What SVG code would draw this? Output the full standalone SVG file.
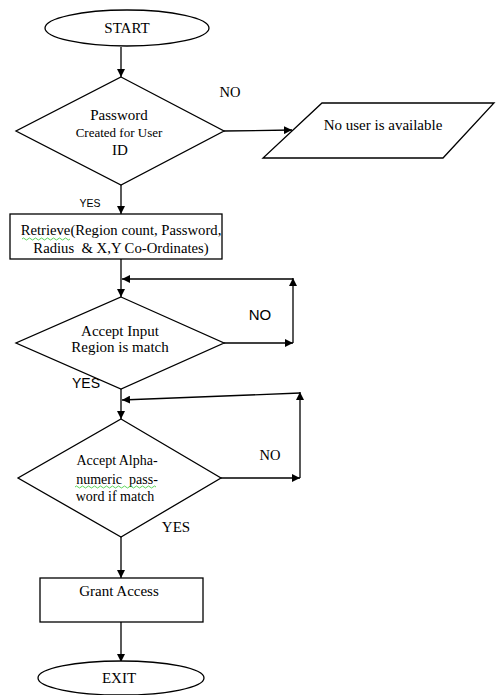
<svg xmlns="http://www.w3.org/2000/svg" width="496" height="695" viewBox="0 0 496 695">
<style>
.s{fill:#fff;stroke:#000;stroke-width:1.3}
.l{fill:none;stroke:#000;stroke-width:1.3}
.t{font-family:"Liberation Serif",serif;font-size:15px;fill:#000;text-anchor:middle}
.a{font-family:"Liberation Sans",sans-serif;font-size:14px;fill:#000;text-anchor:middle}
.w{fill:none;stroke:#3c3;stroke-width:0.8}
</style>
<defs>
<marker id="ah" viewBox="0 0 10 10" refX="10" refY="5" markerWidth="8" markerHeight="8" markerUnits="userSpaceOnUse" orient="auto">
<path d="M0,0L10,5L0,10z" fill="#000"/>
</marker>
</defs>
<rect width="496" height="695" fill="#fff"/>
<g id="connectors">
<line class="l" x1="121" y1="47" x2="121" y2="77" marker-end="url(#ah)"/>
<line class="l" x1="224" y1="131" x2="292" y2="130" marker-end="url(#ah)"/>
<line class="l" x1="121" y1="185" x2="121" y2="214" marker-end="url(#ah)"/>
<line class="l" x1="121" y1="259" x2="121" y2="297" marker-end="url(#ah)"/>
<line class="l" x1="224" y1="343" x2="293" y2="343" marker-end="url(#ah)"/>
<line class="l" x1="293" y1="343" x2="293" y2="278" marker-end="url(#ah)"/>
<line class="l" x1="293" y1="279" x2="122" y2="279" marker-end="url(#ah)"/>
<line class="l" x1="121" y1="389" x2="121" y2="419" marker-end="url(#ah)"/>
<line class="l" x1="221" y1="478" x2="300" y2="478" marker-end="url(#ah)"/>
<line class="l" x1="300" y1="478" x2="300" y2="392" marker-end="url(#ah)"/>
<line class="l" x1="300" y1="393" x2="122" y2="400" marker-end="url(#ah)"/>
<line class="l" x1="121" y1="537" x2="121" y2="578" marker-end="url(#ah)"/>
<line class="l" x1="121" y1="622" x2="121" y2="662" marker-end="url(#ah)"/>
<text class="t" x="230" y="97" style="font-size:14.5px">NO</text>
<text class="a" x="90" y="207" style="font-size:10.5px">YES</text>
<text class="a" x="260" y="320" style="font-size:15px">NO</text>
<text class="a" x="86" y="388">YES</text>
<text class="t" x="270" y="460" style="font-size:14.5px">NO</text>
<text class="t" x="176" y="532">YES</text>
</g>
<g id="start">
<ellipse class="s" cx="127" cy="28" rx="82" ry="18"/>
<text class="t" x="127" y="33">START</text>
</g>
<g id="decision1">
<polygon class="s" points="121,77 224,131 121,185 16,131"/>
<text class="t" x="119" y="120">Password</text>
<text class="t" x="119" y="137" style="font-size:13px">Created for User</text>
<text class="t" x="120" y="155">ID</text>
</g>
<g id="nouser">
<polygon class="s" points="322,103 494,103 443,158 263,158"/>
<text class="t" x="383" y="130">No user is available</text>
</g>
<g id="retrieve">
<rect class="s" x="10" y="214" width="212" height="45"/>
<text class="t" x="121" y="235" style="font-size:14.7px">Retrieve(Region count, Password,</text>
<text class="t" x="121" y="253" style="font-size:14.7px" xml:space="preserve">Radius  &amp; X,Y Co-Ordinates)</text>
<path class="w" d="M22,239 q1.5,-2 3,0 t3,0 t3,0 t3,0 t3,0 t3,0 t3,0 t3,0 t3,0 t3,0 t3,0 t3,0 t3,0 t3,0 t3,0 t3,0"/>
</g>
<g id="decision2">
<polygon class="s" points="121,297 224,343 121,389 16,343"/>
<text class="t" x="120" y="336">Accept Input</text>
<text class="t" x="120" y="352">Region is match</text>
</g>
<g id="decision3">
<polygon class="s" points="121,419 221,478 121,537 18,478"/>
<text class="t" x="117" y="465" style="font-size:14px">Accept Alpha-</text>
<text class="t" x="117" y="484" style="font-size:14px" xml:space="preserve">numeric  pass-</text>
<text class="t" x="115" y="501" style="font-size:14px">word if match</text>
<path class="w" d="M75,487 q1.5,-2 3,0 t3,0 t3,0 t3,0 t3,0 t3,0 t3,0 t3,0 t3,0 t3,0 t3,0 t3,0 t3,0 t3,0 t3,0 t3,0 t3,0 t3,0 t3,0 t3,0 t3,0 t3,0 t3,0 t3,0 t3,0 t3,0 t3,0"/>
</g>
<g id="grant">
<rect class="s" x="40" y="578" width="163" height="44"/>
<text class="t" x="119" y="596">Grant Access</text>
</g>
<g id="exit">
<ellipse class="s" cx="121" cy="678" rx="83" ry="17"/>
<text class="t" x="119" y="683">EXIT</text>
</g>
</svg>
